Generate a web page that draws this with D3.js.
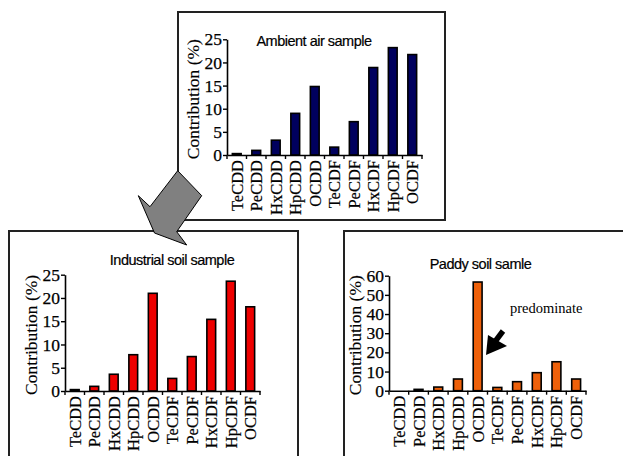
<!DOCTYPE html>
<html><head><meta charset="utf-8">
<script src="https://cdn.jsdelivr.net/npm/d3@7/dist/d3.min.js"></script>
<style>body{margin:0;background:#fff}svg{display:block}
.serif{font-family:"Liberation Serif","Times New Roman",serif !important}
.sans{font-family:"Liberation Sans",Arial,sans-serif !important}
</style>
</head><body>
<svg id="c" width="623" height="456"></svg>
<script>
const categories = ["TeCDD","PeCDD","HxCDD","HpCDD","OCDD","TeCDF","PeCDF","HxCDF","HpCDF","OCDF"];
const ambientAir = [0.3, 1.0, 3.2, 9.0, 14.8, 1.7, 7.2, 18.9, 23.2, 21.7];
const industrialSoil = [0.3, 1.0, 3.6, 7.8, 21.0, 2.7, 7.4, 15.4, 23.6, 18.1];
const paddySoil = [0.0, 0.7, 1.9, 6.1, 56.7, 1.7, 4.7, 9.4, 15.1, 6.1];
const ambientTicks = [0,5,10,15,20,25];
const industrialTicks = [0,5,10,15,20,25];
const paddyTicks = [0,10,20,30,40,50,60];
const titles = ["Ambient air sample","Industrial soil sample","Paddy soil samle"];
const yTitle = "Contribution (%)";
const note = "predominate";

const svg = d3.select("#c");

const frames = [
  {x:178, y:12, w:267, h:208},
  {x:9, y:231, w:289, h:240},
  {x:344, y:231, w:290, h:240}
];
svg.selectAll("rect.frame").data(frames).join("rect")
  .attr("class","frame")
  .attr("x",d=>d.x).attr("y",d=>d.y).attr("width",d=>d.w).attr("height",d=>d.h)
  .attr("fill","#fff").attr("stroke","#222").attr("stroke-width",2);

const panels = [
  {data:ambientAir, ticks:ambientTicks, max:25, title:titles[0], color:"#00005e",
   xL:227, w:195, y0:155, yT:39.3, tx:314, ty:46, yx:199},
  {data:industrialSoil, ticks:industrialTicks, max:25, title:titles[1], color:"#ee0000",
   xL:65, w:195, y0:391, yT:274.7, tx:172, ty:265, yx:37},
  {data:paddySoil, ticks:paddyTicks, max:60, title:titles[2], color:"#ee600a",
   xL:389, w:197, y0:390.7, yT:275.7, tx:480.5, ty:268.5, yx:361}
];

panels.forEach(p => {
  const g = svg.append("g");
  const x = d3.scaleBand().domain(categories).range([p.xL, p.xL + p.w])
    .paddingInner(0.55).paddingOuter(0.275);
  const y = d3.scaleLinear().domain([0, p.max]).range([p.y0, p.yT]);

  g.selectAll("rect.bar").data(p.data).join("rect")
    .attr("class","bar")
    .attr("x",(d,i)=>x(categories[i]))
    .attr("width",x.bandwidth())
    .attr("y",d=>y(d))
    .attr("height",d=>Math.max(0, p.y0 - y(d)))
    .attr("fill",p.color)
    .attr("stroke",d=>d>0?"#000":"none")
    .attr("stroke-width",1.6);

  const ya = g.append("g").attr("transform",`translate(${p.xL},0)`)
    .call(d3.axisLeft(y).tickValues(p.ticks).tickSize(4).tickSizeOuter(0).tickPadding(1));
  ya.attr("font-family",null);
  ya.select(".domain").attr("stroke","#000").attr("stroke-width",1.6);
  ya.selectAll(".tick line").attr("stroke","#000").attr("stroke-width",1.4);
  ya.selectAll(".tick text").attr("class","serif").style("font-size","17.5px")
    .attr("fill","#000").attr("stroke","#000").attr("stroke-width",0.25);

  const xa = g.append("g").attr("transform",`translate(0,${p.y0})`)
    .call(d3.axisBottom(x).tickSize(0).tickPadding(5));
  xa.attr("font-family",null);
  xa.select(".domain").attr("stroke","#000").attr("stroke-width",1.6);
  xa.selectAll(".tick text").attr("class","serif").style("font-size","16.5px")
    .attr("fill","#000").attr("stroke","#000").attr("stroke-width",0.2)
    .attr("text-anchor","end")
    .attr("transform","rotate(-90)")
    .attr("x",-5).attr("y",0).attr("dy","0.36em");
  const bounds = d3.range(categories.length + 1).map(i => p.xL + i * x.step());
  g.selectAll("line.bt").data(bounds).join("line")
    .attr("class","bt")
    .attr("x1",d=>d).attr("x2",d=>d).attr("y1",p.y0).attr("y2",p.y0+4)
    .attr("stroke","#000").attr("stroke-width",1.4);

  g.append("text").attr("class","serif")
    .attr("transform",`translate(${p.yx},${(p.y0+p.yT)/2 + 2}) rotate(-90)`)
    .attr("text-anchor","middle").style("font-size","17.5px")
    .attr("stroke","#000").attr("stroke-width",0.15)
    .text(yTitle);

  g.append("text").attr("class","sans").attr("x",p.tx).attr("y",p.ty).attr("text-anchor","middle")
    .style("font-size","14.5px").attr("letter-spacing",-0.5)
    .attr("stroke","#000").attr("stroke-width",0.2)
    .text(p.title);
});

svg.append("text").attr("class","serif").attr("x",510).attr("y",313)
  .style("font-size","14.5px").text(note);
svg.append("line").attr("x1",503).attr("y1",331).attr("x2",494).attr("y2",343)
  .attr("stroke","#000").attr("stroke-width",5.5);
svg.append("polygon").attr("points","486,355 488,335 507,346").attr("fill","#000");

svg.append("polygon")
  .attr("points","177.7,170.7 201.7,195.7 176.7,231.7 186.7,245 154.5,233 138.3,195.7 150,206.7")
  .attr("fill","#808080").attr("stroke","#000").attr("stroke-width",1);
</script>
</body></html>
